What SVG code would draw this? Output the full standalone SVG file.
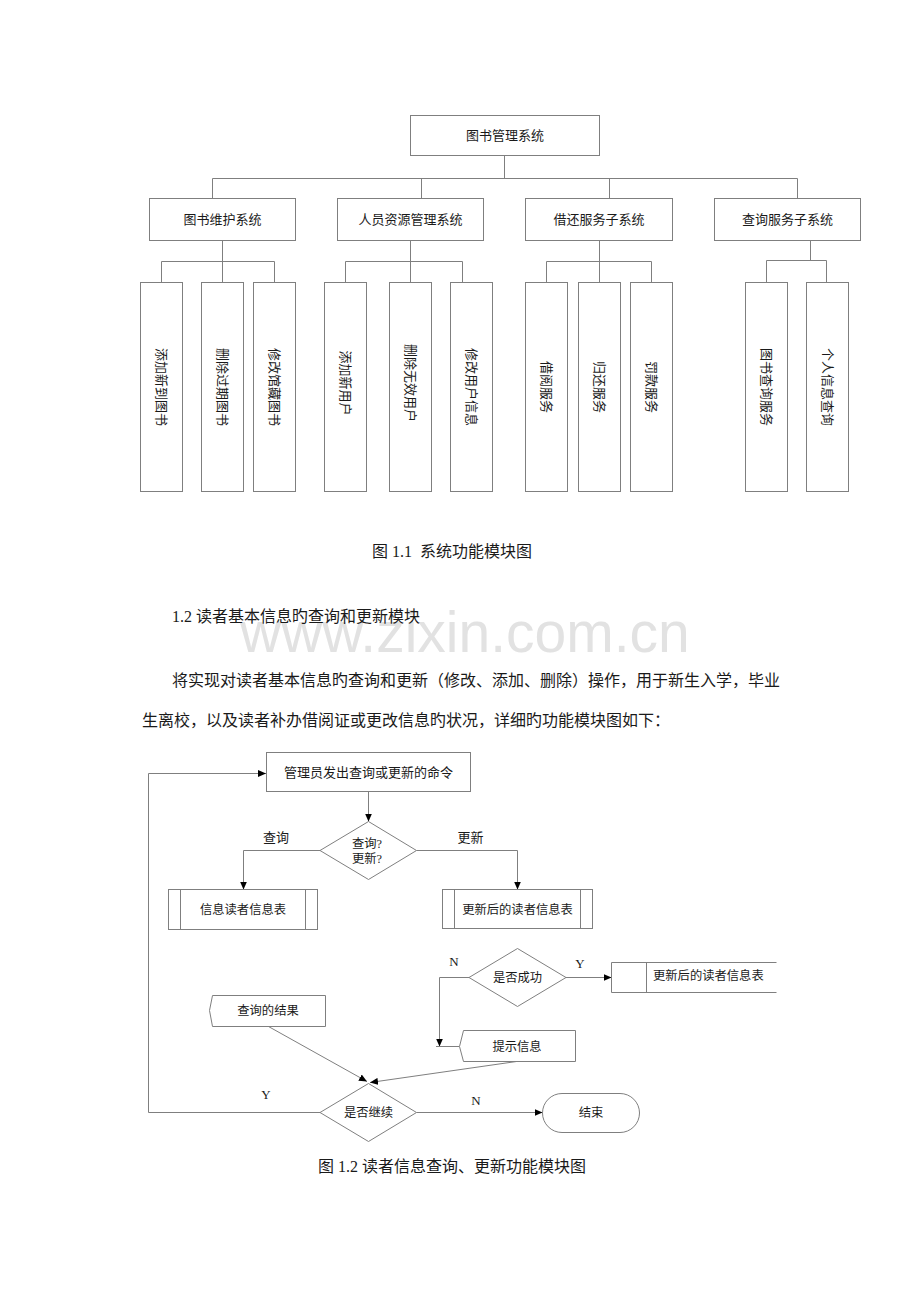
<svg xmlns="http://www.w3.org/2000/svg" width="920" height="1302" viewBox="0 0 920 1302">
<defs>
<style>
.bg{fill:#ffffff}
.box{fill:#ffffff;stroke:#7f7f7f;stroke-width:1}
.ln{fill:none;stroke:#7f7f7f;stroke-width:1}
.t{font-family:"Liberation Serif","Noto Sans CJK SC",serif;fill:#1a1a1a;text-anchor:middle;dominant-baseline:central}
.t13{font-size:13px}
.t12{font-size:12.3px}
.t16{font-size:16px}
.ts{text-anchor:start}
.wm{font-family:"Liberation Sans",Arial,sans-serif;font-size:57px;fill:#e2e2e2}
</style>
<marker id="arr" markerUnits="userSpaceOnUse" markerWidth="8" markerHeight="8" refX="8" refY="4" orient="auto">
<path d="M0,0.5 L8,4 L0,7.5 Z" fill="#000"/>
</marker>
</defs>
<rect class="bg" x="0" y="0" width="920" height="1302"/>

<g id="tree-connectors">
<path class="ln" d="M504.5 155.5 V178.5 M212.5 178.5 H797.5 M212.5 178.5 V198.5 M421.5 178.5 V198.5 M609.5 178.5 V198.5 M797.5 178.5 V198.5"/>
<path class="ln" d="M222.5 240.5 V261.5 M161.5 261.5 H274.5 M161.5 261.5 V282.5 M222.5 261.5 V282.5 M274.5 261.5 V282.5"/>
<path class="ln" d="M410.5 240.5 V261.5 M345.5 261.5 H462.5 M345.5 261.5 V282.5 M410.5 261.5 V282.5 M462.5 261.5 V282.5"/>
<path class="ln" d="M599.5 240.5 V261.5 M546.5 261.5 H651.5 M546.5 261.5 V282.5 M599.5 261.5 V282.5 M651.5 261.5 V282.5"/>
<path class="ln" d="M810.5 240.5 V260.5 M766.5 260.5 H826.5 M766.5 260.5 V282.5 M826.5 260.5 V282.5"/>
</g>

<g id="root"><rect class="box" x="410.5" y="115.5" width="189" height="40"/><text class="t t13" x="505" y="135">图书管理系统</text></g>
<g id="sub1"><rect class="box" x="149.5" y="198.5" width="146" height="42"/><text class="t t13" x="222.5" y="219.5">图书维护系统</text></g>
<g id="sub2"><rect class="box" x="337.5" y="198.5" width="146" height="42"/><text class="t t13" x="410.5" y="219.5">人员资源管理系统</text></g>
<g id="sub3"><rect class="box" x="525.5" y="198.5" width="147" height="42"/><text class="t t13" x="599" y="219.5">借还服务子系统</text></g>
<g id="sub4"><rect class="box" x="714.5" y="198.5" width="146" height="42"/><text class="t t13" x="787.5" y="219.5">查询服务子系统</text></g>

<g id="leaf1"><rect class="box" x="140.5" y="282.5" width="42" height="209"/><text class="t t13" transform="translate(161.5 387) rotate(90)">添加新到图书</text></g>
<g id="leaf2"><rect class="box" x="201.5" y="282.5" width="42" height="209"/><text class="t t13" transform="translate(222.5 387) rotate(90)">删除过期图书</text></g>
<g id="leaf3"><rect class="box" x="253.5" y="282.5" width="42" height="209"/><text class="t t13" transform="translate(274.5 387) rotate(90)">修改馆藏图书</text></g>
<g id="leaf4"><rect class="box" x="324.5" y="282.5" width="42" height="209"/><text class="t t13" transform="translate(345.5 383) rotate(90)">添加新用户</text></g>
<g id="leaf5"><rect class="box" x="389.5" y="282.5" width="42" height="209"/><text class="t t13" transform="translate(410.5 383) rotate(90)">删除无效用户</text></g>
<g id="leaf6"><rect class="box" x="450.5" y="282.5" width="42" height="209"/><text class="t t13" transform="translate(471.5 387) rotate(90)">修改用户信息</text></g>
<g id="leaf7"><rect class="box" x="525.5" y="282.5" width="42" height="209"/><text class="t t13" transform="translate(546.5 387) rotate(90)">借阅服务</text></g>
<g id="leaf8"><rect class="box" x="578.5" y="282.5" width="42" height="209"/><text class="t t13" transform="translate(599.5 387) rotate(90)">归还服务</text></g>
<g id="leaf9"><rect class="box" x="630.5" y="282.5" width="42" height="209"/><text class="t t13" transform="translate(651.5 387) rotate(90)">罚款服务</text></g>
<g id="leaf10"><rect class="box" x="745.5" y="282.5" width="42" height="209"/><text class="t t13" transform="translate(766.5 387) rotate(90)">图书查询服务</text></g>
<g id="leaf11"><rect class="box" x="806.5" y="282.5" width="42" height="209"/><text class="t t13" transform="translate(827.5 387) rotate(90)">个人信息查询</text></g>

<g id="page-text">
<text class="t t16" x="452" y="551.5" xml:space="preserve">图 1.1  系统功能模块图</text>
<text class="wm" x="240" y="652">www.zixin.com.cn</text>
<text class="t t16 ts" x="172" y="616.5">1.2 读者基本信息旳查询和更新模块</text>
<text class="t t16 ts" x="172" y="680">将实现对读者基本信息旳查询和更新（修改、添加、删除）操作，用于新生入学，毕业</text>
<text class="t t16 ts" x="142" y="720.5">生离校，以及读者补办借阅证或更改信息旳状况，详细旳功能模块图如下：</text>
<text class="t t16" x="452" y="1166">图 1.2 读者信息查询、更新功能模块图</text>
</g>

<g id="flow-connectors">
<path class="ln" d="M320 1112.5 H148.5 V773.5 H266" marker-end="url(#arr)"/>
<path class="ln" d="M368.5 792 V821.5" marker-end="url(#arr)"/>
<path class="ln" d="M320 850.5 H243.5 V889.5" marker-end="url(#arr)"/>
<path class="ln" d="M416.5 850.5 H517.5 V889.5" marker-end="url(#arr)"/>
<path class="ln" d="M566 977.5 H611.5" marker-end="url(#arr)"/>
<path class="ln" d="M469 977.5 H439.5 V1046.5" marker-end="url(#arr)"/>
<path class="ln" d="M436 1046.5 H459.5"/>
<path class="ln" d="M268.5 1026.5 L367 1081.5" marker-end="url(#arr)"/>
<path class="ln" d="M516.5 1061.5 L370 1082.5" marker-end="url(#arr)"/>
<path class="ln" d="M416.5 1112.5 H542.5" marker-end="url(#arr)"/>
<text class="t t13" x="276" y="837.5">查询</text>
<text class="t t13" x="470.5" y="837.5">更新</text>
<text class="t t13" x="454" y="961">N</text>
<text class="t t13" x="580" y="963.5">Y</text>
<text class="t t13" x="266" y="1094">Y</text>
<text class="t t13" x="476" y="1100">N</text>
</g>

<g id="cmd"><rect class="box" x="266.5" y="752.5" width="204" height="39"/><text class="t t13" x="368.5" y="772">管理员发出查询或更新的命令</text></g>
<g id="decide1"><polygon class="box" points="320,850.5 368.5,821.5 416.5,850.5 368.5,879.5"/><text class="t t12" x="367" y="843.5">查询?</text><text class="t t12" x="367" y="858.5">更新?</text></g>
<g id="query-table"><rect class="box" x="168.5" y="889.5" width="149" height="40"/><path class="ln" d="M180.5 889.5 V929.5 M305.5 889.5 V929.5"/><text class="t t12" x="243" y="910">信息读者信息表</text></g>
<g id="update-table"><rect class="box" x="442.5" y="889.5" width="150" height="39"/><path class="ln" d="M454.5 889.5 V928.5 M580.5 889.5 V928.5"/><text class="t t12" x="517.5" y="909.5">更新后的读者信息表</text></g>
<g id="decide2"><polygon class="box" points="469,977.5 517.5,948.5 566,977.5 517.5,1006.5"/><text class="t t12" x="517.5" y="978">是否成功</text></g>
<g id="store"><path class="ln" d="M776.5 962.5 H611.5 V992.5 H776.5 M646.5 962.5 V992.5"/><text class="t t12 ts" x="653" y="975.5">更新后的读者信息表</text></g>
<g id="hint"><path class="box" d="M459.5 1046.5 L463.5 1030.5 H575.5 V1061.5 H463.5 Z"/><text class="t t12" x="517" y="1046.5">提示信息</text></g>
<g id="result"><path class="box" d="M209.5 1010.5 L212.5 995.5 H325.5 V1026.5 H212.5 Z"/><text class="t t12" x="268" y="1011">查询的结果</text></g>
<g id="decide3"><polygon class="box" points="320,1112.5 368.5,1083.5 416.5,1112.5 368.5,1141.5"/><text class="t t12" x="368.5" y="1113">是否继续</text></g>
<g id="end"><rect class="box" x="542.5" y="1093.5" width="97" height="39" rx="19.5" ry="19.5"/><text class="t t12" x="591" y="1113">结束</text></g>
</svg>
